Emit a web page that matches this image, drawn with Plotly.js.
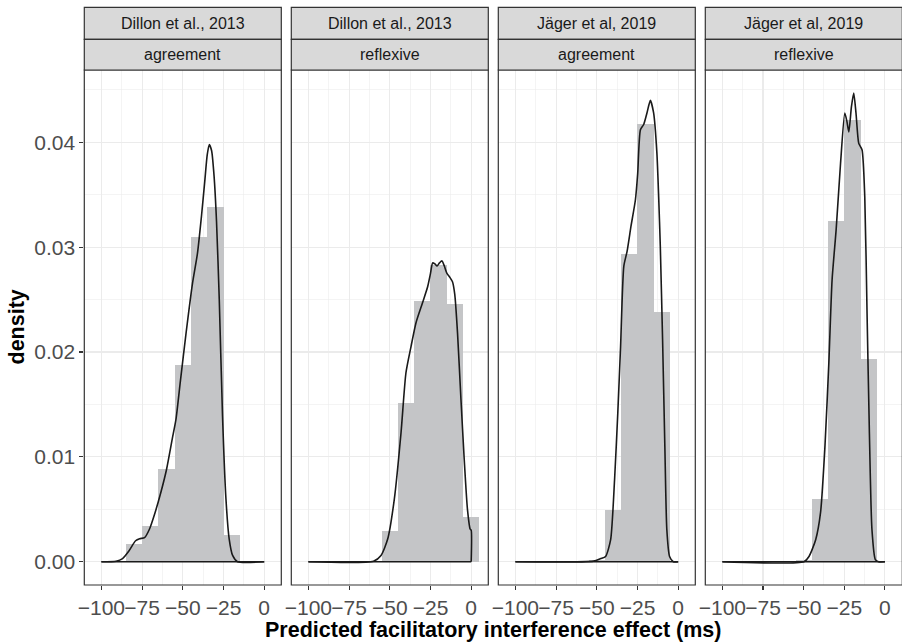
<!DOCTYPE html>
<html>
<head>
<meta charset="utf-8">
<script src="https://cdn.plot.ly/plotly-3.0.1.min.js"></script>
<style>html,body{margin:0;padding:0;background:#fff;}#chart{width:902px;height:642px;}</style>
</head>
<body>
<div id="chart"></div>
<script>
// ---- Data ----
const stripTop = ["Dillon et al., 2013", "Dillon et al., 2013", "Jäger et al, 2019", "Jäger et al, 2019"];
const stripBottom = ["agreement", "reflexive", "agreement", "reflexive"];

const binWidth = 10;
const hist1X = [-80, -70, -60, -50, -40, -30, -20];
const hist1Y = [0.00168, 0.00343, 0.00882, 0.01872, 0.0310, 0.03384, 0.00254];
const hist2X = [-50, -40, -30, -20, -10, 0];
const hist2Y = [0.00292, 0.0151, 0.0249, 0.0283, 0.0246, 0.00428];
const hist3X = [-50, -40, -30, -20, -10];
const hist3Y = [0.0002, 0.00498, 0.02937, 0.04175, 0.02384];
const hist4X = [-50, -40, -30, -20, -10];
const hist4Y = [0.0002, 0.00594, 0.0325, 0.04213, 0.01937];

const dens1X = [-100, -91, -87, -83, -79, -76.5, -73.5, -70.5, -67, -63.5, -60, -56.5, -54.2, -51.5, -48, -44, -41, -38.5, -36.5, -35, -33.7, -32.3, -30.8, -29.3, -27.6, -25.6, -23.5, -21.5, -19.4, -16.4, 0];
const dens1Y = [0, 0.00005, 0.0003, 0.00105, 0.0020, 0.0022, 0.0023, 0.0031, 0.0047, 0.0066, 0.0088, 0.0117, 0.01357, 0.0172, 0.0218, 0.0266, 0.0294, 0.0330, 0.0363, 0.0388, 0.0398, 0.0392, 0.0368, 0.0325, 0.0250, 0.0139, 0.0060, 0.00216, 0.0006, 0, 0];

const dens2X = [-100, -60, -55.4, -51.3, -47.2, -43.1, -40.1, -37, -33.9, -29.9, -26.8, -25, -23.7, -22.3, -21, -19.5, -18, -16.5, -14.9, -13, -11.5, -10.1, -8.4, -6.3, -4.3, -2.3, -0.6, 0, 0];
const dens2Y = [0, 0.00005, 0.0006, 0.00216, 0.0060, 0.0123, 0.0180, 0.0205, 0.0228, 0.0247, 0.0262, 0.0275, 0.0285, 0.0284, 0.0282, 0.0285, 0.0287, 0.0282, 0.0275, 0.0271, 0.0267, 0.0255, 0.0218, 0.0155, 0.0098, 0.0050, 0.0031, 0.0030, 0];

const dens3X = [-100, -52, -47.6, -44.6, -41.5, -39.1, -37.1, -35.4, -33.4, -31.4, -29, -26.3, -24.9, -23.2, -21.2, -19.2, -17.1, -15.1, -13.1, -12, -11, -9.6, -8.2, -7, -5.3, -3, 0];
const dens3Y = [0, 0.00006, 0.0003, 0.0005, 0.0021, 0.0078, 0.0142, 0.0205, 0.0282, 0.0296, 0.0320, 0.0345, 0.0370, 0.0412, 0.0417, 0.0428, 0.0440, 0.0428, 0.0390, 0.0348, 0.0301, 0.0212, 0.0110, 0.0031, 0.0005, 0, 0];

const dens4X = [-100, -49.8, -46.7, -42.6, -39.6, -36.9, -34.5, -32.5, -30, -27.3, -24.7, -23.4, -22.2, -20.6, -19.2, -17.8, -16.1, -14.1, -12.4, -11, -9.6, -8, -5.9, -3.9, 0];
const dens4Y = [0, 0, 0.0005, 0.0021, 0.0047, 0.0110, 0.0190, 0.0269, 0.0317, 0.0380, 0.0428, 0.0420, 0.0410, 0.0434, 0.0447, 0.0428, 0.0399, 0.0393, 0.0348, 0.0237, 0.0126, 0.0031, 0.0002, 0, 0];

const xTickVals = [-100, -75, -50, -25, 0];
const xTickText = ["\u2212100", "\u221275", "\u221250", "\u221225", "0"];
const yTickVals = [0, 0.01, 0.02, 0.03, 0.04];
const yTickText = ["0.00", "0.01", "0.02", "0.03", "0.04"];

const xTitle = "Predicted facilitatory interference effect (ms)";
const yTitle = "density";

// ---- Layout geometry (pixels) ----
const W = 902, H = 642;
const panelLeft = [84.3, 291.3, 498.3, 705.3];
const panelW = 197;
const plotTop = 70, plotBottom = 585, stripTopY = 7.3, stripMidY = 39.3;
const fx = p => p / W;
const fy = p => 1 - p / H;

const histX = [hist1X, hist2X, hist3X, hist4X];
const histY = [hist1Y, hist2Y, hist3Y, hist4Y];
const densX = [dens1X, dens2X, dens3X, dens4X];
const densY = [dens1Y, dens2Y, dens3Y, dens4Y];

const font = "Liberation Sans, Arial, Helvetica, sans-serif";
const traces = [];
const layout = {
  width: W, height: H,
  margin: {l: 0, r: 0, t: 0, b: 0},
  paper_bgcolor: "#ffffff", plot_bgcolor: "#ffffff",
  showlegend: false, bargap: 0, barmode: "overlay",
  hovermode: false,
  shapes: [], annotations: []
};

for (let i = 0; i < 4; i++) {
  const sfx = i === 0 ? "" : String(i + 1);
  const xa = "x" + sfx, ya = "y" + sfx;
  traces.push({
    type: "bar", x: histX[i], y: histY[i], width: binWidth,
    marker: {color: "#c4c5c7", line: {width: 0}},
    xaxis: xa, yaxis: ya, hoverinfo: "skip"
  });
  const dx = densX[i];
  traces.push({
    type: "scatter", mode: "lines", x: [dx[0], dx[dx.length - 1]], y: [0, 0],
    line: {color: "#1a1a1a", width: 1.6},
    xaxis: xa, yaxis: ya, hoverinfo: "skip"
  });
  traces.push({
    type: "scatter", mode: "lines", x: dx, y: densY[i],
    line: {color: "#1a1a1a", width: 1.6, shape: "spline", smoothing: 0.6},
    xaxis: xa, yaxis: ya, hoverinfo: "skip"
  });

  const x0 = panelLeft[i], x1 = panelLeft[i] + panelW;
  layout["xaxis" + sfx] = {
    domain: [fx(x0), fx(x1)], range: [-110.5, 10.5], anchor: ya,
    tickmode: "array", tickvals: xTickVals, ticktext: xTickText, tickangle: 0,
    ticks: "outside", ticklen: 4, tickwidth: 1.1, tickcolor: "#333333",
    tickfont: {family: font, size: 21, color: "#4D4D4D"},
    showgrid: true, gridcolor: "#EBEBEB", gridwidth: 1.1,
    minor: {tickmode: "linear", tick0: 0, dtick: 12.5, showgrid: true, gridcolor: "#EBEBEB", gridwidth: 0.55, ticks: ""},
    zeroline: false, showline: false, fixedrange: true
  };
  layout["yaxis" + sfx] = {
    domain: [fy(plotBottom), fy(plotTop)], range: [-0.00222, 0.0469], anchor: xa,
    tickmode: "array", tickvals: yTickVals, ticktext: yTickText,
    ticks: i === 0 ? "outside" : "", ticklen: 4, tickwidth: 1.1, tickcolor: "#333333",
    showticklabels: i === 0,
    tickfont: {family: font, size: 21, color: "#4D4D4D"},
    showgrid: true, gridcolor: "#EBEBEB", gridwidth: 1.1,
    minor: {tickmode: "linear", tick0: 0, dtick: 0.005, showgrid: true, gridcolor: "#EBEBEB", gridwidth: 0.55, ticks: ""},
    zeroline: false, showline: false, fixedrange: true
  };
  if (i > 0) layout["yaxis" + sfx].matches = "y";

  // panel border
  layout.shapes.push({type: "rect", xref: "paper", yref: "paper",
    x0: fx(x0), x1: fx(x1), y0: fy(plotBottom), y1: fy(plotTop),
    line: {color: "#333333", width: 1.2}, fillcolor: "rgba(0,0,0,0)", layer: "above"});
  // strips
  layout.shapes.push({type: "rect", xref: "paper", yref: "paper",
    x0: fx(x0), x1: fx(x1), y0: fy(stripMidY), y1: fy(stripTopY),
    line: {color: "#333333", width: 1.2}, fillcolor: "#D9D9D9", layer: "above"});
  layout.shapes.push({type: "rect", xref: "paper", yref: "paper",
    x0: fx(x0), x1: fx(x1), y0: fy(plotTop), y1: fy(stripMidY),
    line: {color: "#333333", width: 1.2}, fillcolor: "#D9D9D9", layer: "above"});
  layout.annotations.push({xref: "paper", yref: "paper", x: fx((x0 + x1) / 2), y: fy((stripTopY + stripMidY) / 2),
    text: stripTop[i], showarrow: false, xanchor: "center", yanchor: "middle",
    font: {family: font, size: 16, color: "#1A1A1A"}});
  layout.annotations.push({xref: "paper", yref: "paper", x: fx((x0 + x1) / 2), y: fy((stripMidY + plotTop) / 2),
    text: stripBottom[i], showarrow: false, xanchor: "center", yanchor: "middle",
    font: {family: font, size: 16, color: "#1A1A1A"}});
}

layout.annotations.push({xref: "paper", yref: "paper", x: fx((panelLeft[0] + W) / 2), y: fy(630),
  text: "<b>" + xTitle + "</b>", showarrow: false, xanchor: "center", yanchor: "middle",
  font: {family: font, size: 21.5, color: "#000000"}});
layout.annotations.push({xref: "paper", yref: "paper", x: fx(16), y: fy((plotTop + plotBottom) / 2),
  text: "<b>" + yTitle + "</b>", showarrow: false, xanchor: "center", yanchor: "middle", textangle: -90,
  font: {family: font, size: 21.5, color: "#000000"}});

Plotly.newPlot("chart", traces, layout, {staticPlot: true, displayModeBar: false});
</script>
</body>
</html>
